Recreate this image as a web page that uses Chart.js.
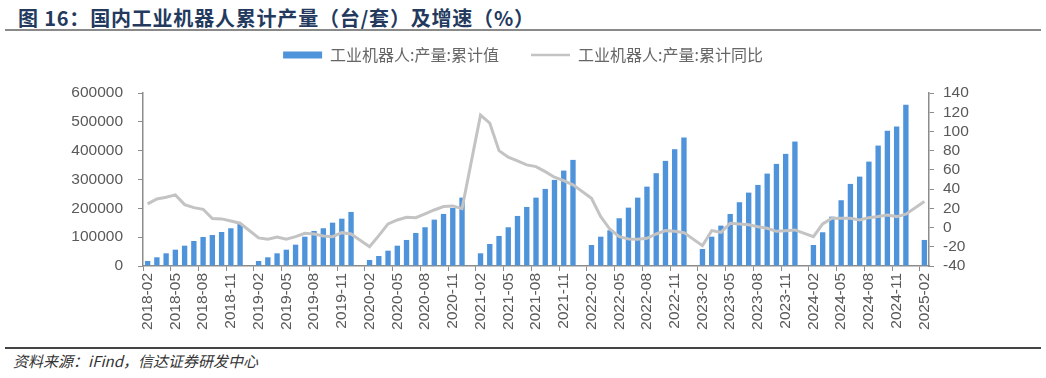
<!DOCTYPE html>
<html>
<head>
<meta charset="utf-8">
<script src="https://cdn.jsdelivr.net/npm/chart.js@4"></script>
<style>
  html, body { margin: 0; padding: 0; background: #fff; }
  body { width: 1046px; height: 378px; position: relative; overflow: hidden; }
  #title {
    position: absolute; left: 18px; top: 3px;
    font: bold 20px "Noto Sans CJK SC", sans-serif; color: #233a5e;
    white-space: nowrap; letter-spacing: 0.8px;
  }
  #rule-top { position: absolute; left: 5px; right: 5px; top: 29px; height: 2px; background: #8a8a8a; }
  #rule-bottom { position: absolute; left: 5px; right: 5px; top: 347px; height: 2px; background: #444; }
  #source {
    position: absolute; left: 13px; top: 350px;
    font: italic 15px "Noto Sans CJK SC", serif; color: #333; white-space: nowrap;
  }
  #wrap { position: absolute; left: 0; top: 0; width: 1046px; height: 348px; }
</style>
</head>
<body>
<div id="title">图 16：国内工业机器人累计产量（台/套）及增速（%）</div>
<div id="rule-top"></div>
<div id="wrap"><canvas id="chart"></canvas></div>
<div id="rule-bottom"></div>
<div id="source">资料来源：iFind，信达证券研发中心</div>
<script>
// months 2018-02 .. 2025-02, January has no data (combined with Feb)
const labels = [];
for (let y = 2018; y <= 2025; y++) {
    for (let m = 1; m <= 12; m++) {
        if (y === 2018 && m === 1) continue;
        if (y === 2025 && m > 2) break;
        labels.push(y + '-' + String(m).padStart(2, '0'));
    }
}

// cumulative output (units / sets)
const output = [
    17400, 30200, 44000, 56600, 70500, 86800, 100700, 107600, 118000, 130900, 145800,
    null, 17400, 30200, 44000, 56600, 74000, 101700, 121500, 130900, 150300, 164200, 187500,
    null, 20800, 34700, 53100, 70500, 90300, 114600, 134400, 160800, 180500, 201400, 237100,
    null, 44000, 76400, 104200, 134300, 173600, 204800, 237100, 267300, 298600, 331000, 368000,
    null, 72900, 101700, 123900, 165600, 202400, 237100, 275300, 321800, 364600, 405100, 445500,
    null, 59000, 101700, 140000, 180500, 221200, 254500, 281200, 320500, 354100, 388900, 431600,
    null, 72900, 117000, 171200, 228100, 284700, 310000, 362100, 417700, 468700, 483600, 559000,
    null, 90300
];

// cumulative YoY growth (%)
const growth = [
    24.6, 29.8, 31.6, 34.0, 23.9, 20.7, 19.0, 9.3, 9.0, 6.9, 4.5,
    null, -10.8, -12.2, -9.8, -12.2, -9.5, -5.9, -6.7, -8.7, -9.5, -5.3, -6.7,
    null, -19.9, -8.4, 3.8, 7.9, 10.7, 10.3, 14.2, 18.3, 21.8, 22.5, 19.7,
    null, 117.0, 108.6, 80.0, 73.2, 69.4, 65.2, 63.4, 58.2, 52.4, 48.9, 44.4,
    null, 30.5, 11.4, -1.8, -9.5, -11.9, -12.2, -11.2, -6.7, -3.2, -3.9, -5.3,
    null, -18.9, -3.2, -4.9, 4.5, 3.8, 3.0, 0.9, -0.7, -3.9, -3.2, -2.5,
    null, -9.5, 3.8, 9.7, 9.7, 9.7, 7.9, 10.3, 11.4, 13.1, 11.4, 13.9,
    null, 27.0
];

const axisColor = '#8c8c8c';
const tickColor = '#595959';
const tickFont = { family: '"Liberation Sans", Arial, sans-serif', size: 15.5 };

// legend taller than its content so the plot starts where the reference does
const legendHeight = {
    id: 'legendHeight',
    beforeInit(chart) {
        const fit = chart.legend.fit;
        chart.legend.fit = function () {
            fit.bind(chart.legend)();
            this.height = 78;
        };
    }
};

new Chart(document.getElementById('chart'), {
    type: 'bar',
    data: {
        labels: labels,
        datasets: [{
            label: '工业机器人:产量:累计值',
            data: output,
            backgroundColor: '#4f94da',
            barPercentage: 0.58,
            categoryPercentage: 1,
            yAxisID: 'y',
            order: 1
        }, {
            type: 'line',
            label: '工业机器人:产量:累计同比',
            data: growth,
            borderColor: '#c3c3c3',
            backgroundColor: '#c3c3c3',
            borderWidth: 3,
            pointRadius: 0,
            tension: 0,
            spanGaps: true,
            yAxisID: 'y1',
            order: 0
        }]
    },
    options: {
        responsive: true,
        maintainAspectRatio: false,
        animation: false,
        layout: { padding: { top: 15, left: 0, right: 0, bottom: 0 } },
        plugins: {
            tooltip: { enabled: false },
            legend: {
                display: true,
                position: 'top',
                labels: {
                    color: '#666',
                    font: { family: '"Noto Sans CJK SC", sans-serif', size: 16 },
                    usePointStyle: true,
                    pointStyleWidth: 39,
                    boxWidth: 39,
                    boxHeight: 7,
                    padding: 32,
                    generateLabels(chart) {
                        return chart.data.datasets.map((ds, i) => {
                            const isLine = ds.type === 'line';
                            return {
                                text: ds.label,
                                fillStyle: isLine ? 'rgba(0,0,0,0)' : ds.backgroundColor,
                                strokeStyle: ds.borderColor || ds.backgroundColor,
                                lineWidth: isLine ? 2.5 : 0,
                                pointStyle: isLine ? 'line' : 'rect',
                                fontColor: '#666',
                                datasetIndex: i
                            };
                        });
                    }
                }
            }
        },
        scales: {
            x: {
                grid: {
                    drawOnChartArea: false,
                    tickLength: 5,
                    color: (ctx) => ctx.index % 3 === 0 ? axisColor : 'rgba(0,0,0,0)'
                },
                border: { display: true, color: axisColor, width: 1.5 },
                ticks: {
                    autoSkip: false,
                    maxRotation: 90,
                    minRotation: 90,
                    padding: 2,
                    color: tickColor,
                    font: tickFont,
                    callback: function (value, index) {
                        return index % 3 === 0 ? this.getLabelForValue(value) : '';
                    }
                },
                afterFit(scale) { scale.height = 82; }
            },
            y: {
                position: 'left',
                min: 0,
                max: 600000,
                grid: { drawOnChartArea: false, tickLength: 5, color: axisColor },
                border: { display: true, color: axisColor, width: 1.5 },
                ticks: {
                    stepSize: 100000, autoSkip: false, padding: 15, color: tickColor, font: tickFont,
                    callback: (v) => String(v)
                },
                afterFit(scale) { scale.width = 143; }
            },
            y1: {
                position: 'right',
                min: -40,
                max: 140,
                grid: { drawOnChartArea: false, tickLength: 5, color: axisColor },
                border: { display: true, color: axisColor, width: 1.5 },
                ticks: {
                    stepSize: 20, autoSkip: false, padding: 9, color: tickColor, font: tickFont,
                    callback: (v) => String(v)
                },
                afterFit(scale) { scale.width = 117; }
            }
        }
    },
    plugins: [legendHeight]
});
</script>
</body>
</html>
